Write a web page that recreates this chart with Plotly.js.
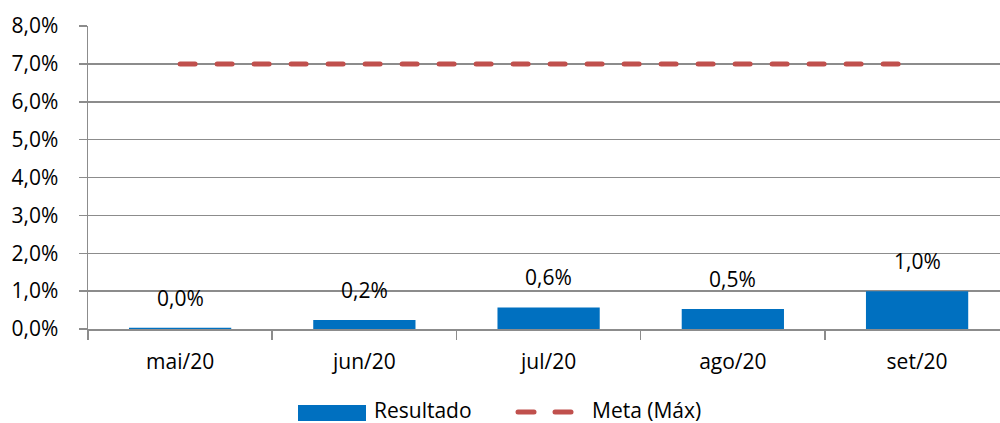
<!DOCTYPE html>
<html>
<head>
<meta charset="utf-8">
<script src="https://cdn.plot.ly/plotly-3.0.1.min.js"></script>
<style>
html,body{margin:0;padding:0;background:#fff;}
#chart{width:1000px;height:423px;}
path.js-line{stroke-linecap:round !important;}
.shapelayer path{stroke-linecap:round !important;}
</style>
</head>
<body>
<div id="chart"></div>
<script>
const categories = ["mai/20", "jun/20", "jul/20", "ago/20", "set/20"];
const resultado = [0.0003, 0.0024, 0.0057, 0.0053, 0.0100];
const resultadoLabels = ["0,0%", "0,2%", "0,6%", "0,5%", "1,0%"];
const meta = [0.07, 0.07, 0.07, 0.07, 0.07];
const yTickVals = [0, 0.01, 0.02, 0.03, 0.04, 0.05, 0.06, 0.07, 0.08];
const legendNames = ["Resultado", "Meta (Máx)"];

const FONT = "'Open Sans', Lato, sans-serif";
const FS = 21;
const GRAY = "#8c8c8c";
const BLUE = "#0070C0";
const RED = "#C0504D";

const traces = [
  {type: "bar", x: categories, y: resultado, name: legendNames[0],
   marker: {color: BLUE}, hoverinfo: "skip", showlegend: false},
  {type: "scatter", mode: "lines", x: categories, y: meta, name: legendNames[1],
   line: {color: RED, width: 5, dash: "15px,22px"}, hoverinfo: "skip", showlegend: false}
];

const annotations = categories.map((c, i) => ({
  x: c, y: resultado[i], xref: "x", yref: "y", text: resultadoLabels[i],
  showarrow: false, yanchor: "bottom", yshift: 14,
  font: {family: FONT, size: FS, color: "#000"}
}));

// custom legend
const px = x => (x - 88) / 912;
const py = y => (329 - y) / 303;
annotations.push({xref: "paper", yref: "paper", x: px(373), y: py(410), xanchor: "left", yanchor: "middle",
  text: legendNames[0], showarrow: false, borderpad: 0, font: {family: FONT, size: FS, color: "#000"}});
annotations.push({xref: "paper", yref: "paper", x: px(591), y: py(410), xanchor: "left", yanchor: "middle",
  text: legendNames[1], showarrow: false, borderpad: 0, font: {family: FONT, size: FS, color: "#000"}});

const shapes = [
  {type: "rect", xref: "paper", yref: "paper", x0: px(298), x1: px(366), y0: py(405), y1: py(421),
   fillcolor: BLUE, line: {width: 0}},
  {type: "line", xref: "paper", yref: "paper", x0: px(518), x1: px(534), y0: py(412), y1: py(412),
   line: {color: RED, width: 5}},
  {type: "line", xref: "paper", yref: "paper", x0: px(555), x1: px(571), y0: py(412), y1: py(412),
   line: {color: RED, width: 5}}
];

const layout = {
  width: 1000, height: 423,
  margin: {l: 88, r: 0, t: 26, b: 94, pad: 0},
  paper_bgcolor: "#fff", plot_bgcolor: "#fff",
  separators: ",.",
  showlegend: false,
  bargap: 0.445,
  font: {family: FONT, size: FS, color: "#000"},
  xaxis: {
    type: "category", range: [-0.5, 4.45],
    tickson: "boundaries", ticks: "outside", ticklen: 9, tickcolor: GRAY, tickwidth: 1.5,
    showline: true, linecolor: GRAY, linewidth: 1.5,
    showgrid: false, zeroline: false,
    tickfont: {family: FONT, size: FS, color: "#000"},
    ticklabelstandoff: 13
  },
  yaxis: {
    range: [0, 0.08], tickvals: yTickVals, tickformat: ".1%",
    ticks: "outside", ticklen: 8, tickcolor: GRAY, tickwidth: 1.5,
    showline: true, linecolor: GRAY, linewidth: 1.5,
    showgrid: true, gridcolor: GRAY, gridwidth: 1.5,
    zeroline: false,
    tickfont: {family: FONT, size: FS, color: "#000"},
    ticklabelstandoff: 16
  },
  annotations: annotations,
  shapes: shapes
};

Plotly.newPlot("chart", traces, layout, {staticPlot: true, displayModeBar: false});
</script>
</body>
</html>
